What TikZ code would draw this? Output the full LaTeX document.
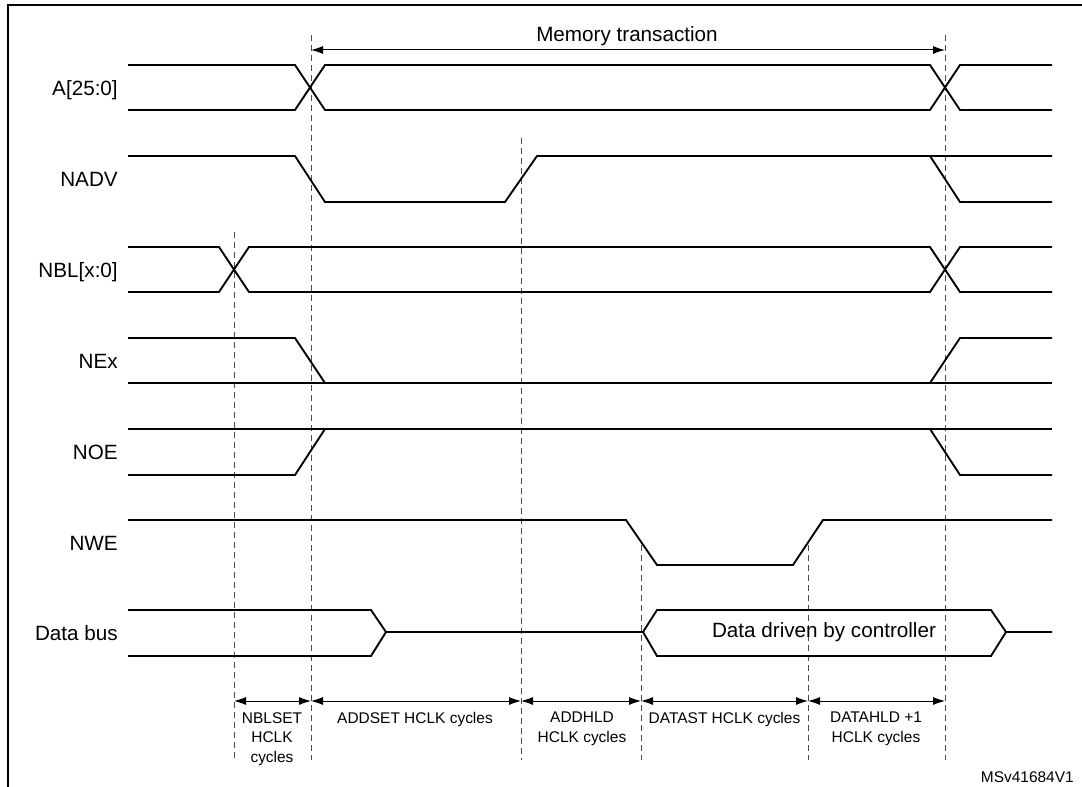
\documentclass[tikz,border=0pt]{standalone}
\usepackage{fontspec}
\setmainfont{Liberation Sans}
\usetikzlibrary{arrows.meta}
\begin{document}
\begin{tikzpicture}[x=0.75pt,y=-0.75pt,
  sig/.style={line width=1.4pt,line join=miter},
  guide/.style={dash pattern=on 4.5pt off 3pt,line width=0.75pt,black!70},
  span/.style={line width=0.75pt,{Latex[length=9pt,width=6pt]}-{Latex[length=9pt,width=6pt]}},
  lbl/.style={font=\fontsize{15.5}{18}\selectfont,anchor=base east,inner sep=0pt},
  big/.style={font=\fontsize{15.5}{18}\selectfont,inner sep=0pt},
  cyc/.style={font=\fontsize{11.6}{14.6}\selectfont,align=center,anchor=north,inner sep=0pt},
]
\useasboundingbox (0,0) rectangle (1082,787);
% frame
\draw[line width=2pt] (8,787) -- (8,5) -- (1082,5);

% guide lines
\foreach \n/\x/\t in {g1/234/232, g2/311/35, g3/521/138, g4/641/545, g5/808/545, g6/945/35}{
  \coordinate (\n t) at (\x,\t);
  \coordinate (\n b) at (\x,760);
  \coordinate (\n a) at (\x,701);
  \draw[guide] (\n t) -- (\n b);
}
\coordinate (m1) at (311,50);
\coordinate (m2) at (945,50);
\draw[span] (m1) -- (m2);
\node[big,anchor=base] (mt) at (627,42) {Memory transaction};

% signal labels
\node[lbl] (la) at (118,95.5) {A[25:0]};
\node[lbl] (lb) at (118,186.5) {NADV};
\node[lbl] (lc) at (118,277.5) {NBL[x:0]};
\node[lbl] (ld) at (118,368.5) {NEx};
\node[lbl] (le) at (118,459.5) {NOE};
\node[lbl] (lf) at (118,550.5) {NWE};
\node[lbl] (lg) at (118,640) {Data bus};

% A[25:0]
\draw[sig] (128,65) -- (295,65) -- (325,110) -- (930,110) -- (960,65) -- (1052,65);
\draw[sig] (128,110) -- (295,110) -- (325,65) -- (930,65) -- (960,110) -- (1052,110);
% NADV
\draw[sig] (128,156) -- (295,156) -- (325,202) -- (505,202) -- (537,156) -- (1052,156);
\draw[sig] (930,156) -- (960,202) -- (1052,202);
% NBL
\draw[sig] (128,247) -- (219,247) -- (249,292) -- (930,292) -- (960,247) -- (1052,247);
\draw[sig] (128,292) -- (219,292) -- (249,247) -- (930,247) -- (960,292) -- (1052,292);
% NEx
\draw[sig] (128,338) -- (295,338) -- (325,383);
\draw[sig] (128,383) -- (1052,383);
\draw[sig] (930,383) -- (960,338) -- (1052,338);
% NOE
\draw[sig] (128,429) -- (1052,429);
\draw[sig] (128,475) -- (295,475) -- (325,429);
\draw[sig] (930,429) -- (960,475) -- (1052,475);
% NWE
\draw[sig] (128,520) -- (626,520) -- (657,565) -- (793,565) -- (823,520) -- (1052,520);
% Data bus
\draw[sig] (128,610) -- (371,610) -- (386,632) -- (643,632) -- (657,610) -- (991,610) -- (1006,632) -- (1052,632);
\draw[sig] (128,656) -- (371,656) -- (386,632);
\draw[sig] (643,632) -- (657,656) -- (991,656) -- (1006,632);
\node[big] (dd) at (824,632) {Data driven by controller};

% cycle arrows
\draw[span] (g1a) -- (g2a);
\draw[span] (g2a) -- (g3a);
\draw[span] (g3a) -- (g4a);
\draw[span] (g4a) -- (g5a);
\draw[span] (g5a) -- (g6a);
\node[cyc] (c1) at (272,712) {NBLSET\\HCLK\\cycles};
\node[cyc] (c2) at (415,712) {ADDSET HCLK cycles};
\node[cyc] (c3) at (582,712) {ADDHLD\\HCLK cycles};
\node[cyc] (c4) at (724.5,712) {DATAST HCLK cycles};
\node[cyc] (c5) at (876,712) {DATAHLD +1\\HCLK cycles};

\node[font=\fontsize{11.6}{14}\selectfont,anchor=base east,inner sep=0pt] (id) at (1074,782) {MSv41684V1};
\end{tikzpicture}
\end{document}
